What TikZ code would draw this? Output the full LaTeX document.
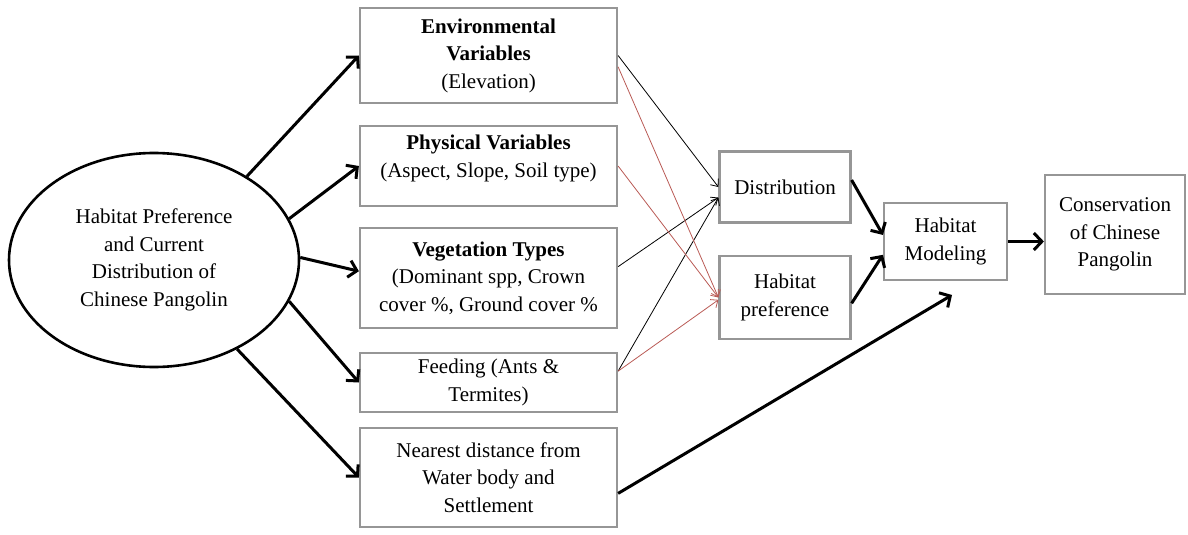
\documentclass[tikz,border=0pt]{standalone}
\usepackage{fontspec}
\setmainfont{Liberation Serif}
\usepackage{tikz}
\usetikzlibrary{arrows.meta,shapes.geometric}
\definecolor{boxgray}{RGB}{150,150,150}
\definecolor{linkred}{RGB}{185,90,85}
\newcommand{\boxfont}{\fontsize{21}{27.5}\selectfont}
\tikzset{
    varbox/.style={
    rectangle,draw=boxgray,line width=2.2pt,align=center,inner sep=2pt,font=\boxfont
    },
    bigarrow/.style={
    -{Straight Barb[length=8pt,width=17pt]},line width=3pt
    },
    thinarrow/.style={
    -{Straight Barb[length=6pt,width=10pt]},line width=0.8pt
    },
    redarrow/.style={
    thinarrow,color=linkred
    },
}

\begin{document}
\begin{tikzpicture}[x=1pt,y=-1pt]
   \useasboundingbox (0,0) rectangle (1188,535);
   \node[ellipse,draw=black,line width=2.6pt,minimum width=290pt,minimum height=214pt,align=center,font=\boxfont] (hab) at (154,260) {Habitat Preference\\and Current\\Distribution of\\Chinese Pangolin};
   \node[varbox,minimum width=257pt,minimum height=95pt] (env) at (488.5,55.5) {\textbf{Environmental}\\\textbf{Variables}\\(Elevation)};
   \node[varbox,minimum width=257pt,minimum height=80pt] (phys) at (488.5,166) {\textbf{Physical Variables}\\(Aspect, Slope, Soil type)\\[-8pt]\mbox{}};
   \node[varbox,minimum width=257pt,minimum height=100pt] (veg) at (488.5,278) {\textbf{Vegetation Types}\\(Dominant spp, Crown\\cover \%, Ground cover \%};
   \node[varbox,minimum width=257pt,minimum height=59pt] (feed) at (488.5,382.5) {Feeding (Ants \&\\Termites)};
   \node[varbox,minimum width=257pt,minimum height=99pt] (near) at (488.5,477.5) {Nearest distance from\\Water body and\\Settlement};
   \node[varbox,minimum width=131pt,minimum height=71pt] (dist) at (785,187) {Distribution};
   \node[varbox,minimum width=131pt,minimum height=83pt] (pref) at (785,297.5) {Habitat\\preference};
   \node[varbox,minimum width=123pt,minimum height=77pt] (model) at (945.5,241.5) {Habitat\\Modeling};
   \node[varbox,minimum width=140pt,minimum height=119pt] (cons) at (1115,234.5) {Conservation\\of Chinese\\Pangolin};
   \coordinate (modin) at (952,295);

  \path[bigarrow]
    (hab.42.7) edge (env.west)
    (hab.17.8) edge (phys.west)
    (hab.1.6) edge (veg.177)
    (hab.-17.8) edge (feed.west)
    (hab.-47.1) edge (near.west)
    (dist.6) edge (model.174)
    (pref.-5) edge (model.192)
    (model.east) edge (model.east -| cons.west)
    (near.-7) edge (modin);
  \path[thinarrow]
    (env.east) edge (dist.west)
    (veg.5) edge (dist.189.5)
    (feed.5.6) edge (dist.189.5);
  \path[redarrow]
    (env.-5) edge (pref.west)
    (phys.east) edge (pref.west)
    (feed.5.6) edge (pref.182);
\end{tikzpicture}
\end{document}
